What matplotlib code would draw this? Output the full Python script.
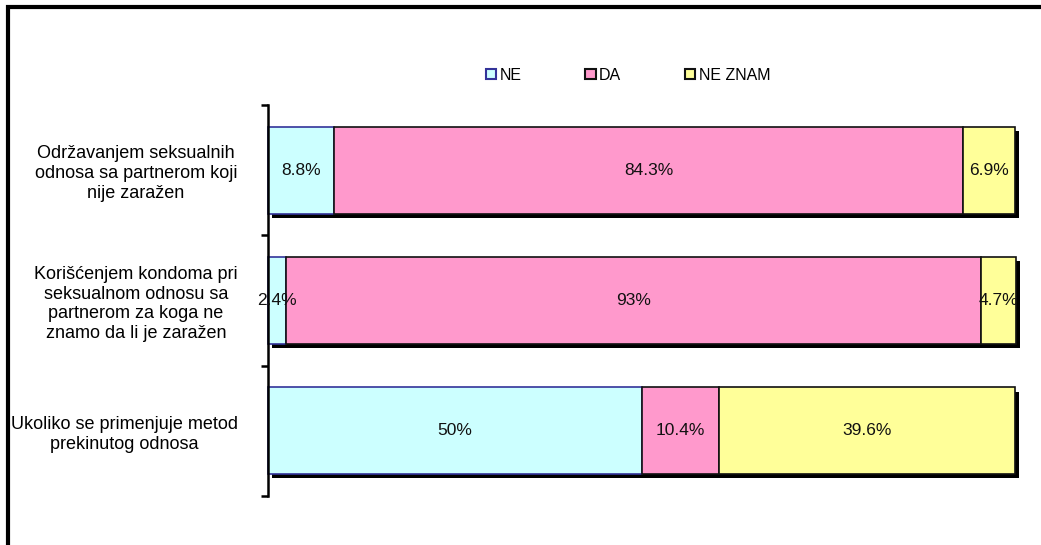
import matplotlib
matplotlib.use("Agg")
import matplotlib.pyplot as plt
import matplotlib.patheffects as pe
import matplotlib.transforms as mtransforms
from matplotlib.patches import Rectangle, Patch
import numpy as np

plt.rcParams['font.family'] = ['Liberation Sans', 'DejaVu Sans']

categories = [
    "Održavanjem seksualnih\nodnosa sa partnerom koji\nnije zaražen",
    "Korišćenjem kondoma pri\nseksualnom odnosu sa\npartnerom za koga ne\nznamo da li je zaražen",
    "Ukoliko se primenjuje metod\nprekinutog odnosa",
]
series_names = ["NE", "DA", "NE ZNAM"]
ne = [8.8, 2.4, 50]
da = [84.3, 93, 10.4]
ne_znam = [6.9, 4.7, 39.6]
value_labels = [["8.8%", "2.4%", "50%"], ["84.3%", "93%", "10.4%"], ["6.9%", "4.7%", "39.6%"]]

colors = ["#CCFFFF", "#FF99CC", "#FFFF99"]
edges = ["#333399", "#111111", "#111111"]

fig = plt.figure(figsize=(10.41, 5.45), dpi=100)
ax = fig.add_axes([268/1041, 1-496/545, (1015-268)/1041, (496-105)/545])

y = np.arange(len(categories))
left = np.zeros(len(categories))
shadow = [pe.SimplePatchShadow(offset=(3, -3), shadow_rgbFace='black', alpha=1.0), pe.Normal()]
for vals, col, ec, labs in zip([ne, da, ne_znam], colors, edges, value_labels):
    bars = ax.barh(y, vals, left=left, height=0.667, color=col, edgecolor=ec, linewidth=1.2)
    for b in bars:
        b.set_path_effects(shadow)
        b.set_clip_on(False)
    for yi, v, l, lab in zip(y, vals, left, labs):
        ax.text(l + v/2, yi, lab, ha='center', va='center', fontsize=12.5, color='#111111')
    left = left + np.array(vals)

ax.set_xlim(0, 100)
ax.set_ylim(2.5, -0.5)
ax.set_xticks([])
for s in ['top', 'right', 'bottom']:
    ax.spines[s].set_visible(False)
ax.spines['left'].set_linewidth(1.8)
ax.set_yticks(y)
ax.set_yticklabels(categories, ha='center', fontsize=13, linespacing=1.22)
ax.tick_params(axis='y', which='major', length=0, pad=95)
ax.set_yticks([-0.5, 0.5, 1.5, 2.5], minor=True)
ax.tick_params(axis='y', which='minor', length=5, width=1.8)
lbl3 = ax.get_yticklabels()[2]
lbl3.set_transform(lbl3.get_transform() + mtransforms.ScaledTranslation(-0.12, 0, fig.dpi_scale_trans))

handles = [Patch(facecolor=c, edgecolor=e, linewidth=1.5) for c, e in zip(colors, edges)]
fig.legend(handles, series_names, loc='center', bbox_to_anchor=(628/1041, 1-75/545), ncol=3,
           frameon=False, fontsize=11.5, handlelength=0.65, handleheight=0.65,
           handletextpad=0.2, columnspacing=4.0)

fig.patches.append(Rectangle((8/1041, -0.1), 1.2, 1 - 7/545 + 0.1, transform=fig.transFigure,
                             fill=False, edgecolor='black', linewidth=3, zorder=10))

fig.savefig("out.png", dpi=100)
